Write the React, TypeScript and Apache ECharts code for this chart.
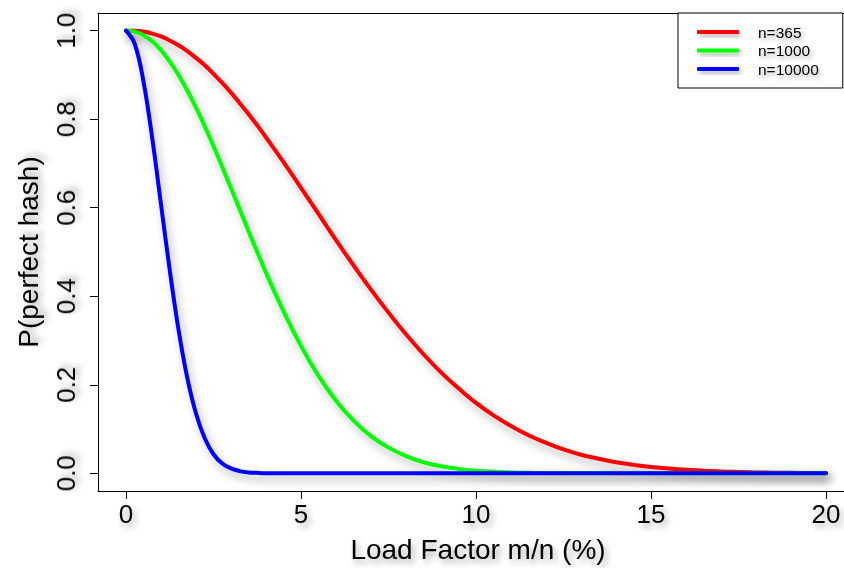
import React, { useEffect, useRef } from "react";
import * as echarts from "echarts";

const loadFactor = [
  0, 0.25, 0.5, 0.75, 1, 1.25, 1.5, 1.75, 2, 2.25, 2.5, 2.75, 3, 3.25, 3.5, 3.75, 4,
  4.5, 5, 5.5, 6, 6.5, 7, 7.5, 8, 8.5, 9, 9.5, 10, 10.5, 11, 11.5, 12, 12.5, 13, 13.5,
  14, 14.5, 15, 15.5, 16, 16.5, 17, 17.5, 18, 18.5, 19, 19.5, 20,
];

const n365 = [
  1.0, 1.0, 0.998, 0.9935, 0.987, 0.978, 0.967, 0.954, 0.9385, 0.922, 0.9025, 0.882, 0.86, 0.836, 0.812, 0.786, 0.759,
  0.703, 0.645, 0.586, 0.527, 0.47, 0.415, 0.363, 0.314, 0.269, 0.228, 0.192, 0.159, 0.131, 0.107, 0.086, 0.069, 0.054,
  0.042, 0.033, 0.025, 0.019, 0.014, 0.011, 0.008, 0.006, 0.004, 0.003, 0.002, 0.0014, 0.001, 0.0007, 0.0005,
];

const n1000 = [
  1.0, 0.998, 0.99, 0.976, 0.956, 0.93, 0.9, 0.865, 0.826, 0.784, 0.739, 0.692, 0.644, 0.596, 0.547, 0.5, 0.453,
  0.366, 0.288, 0.22, 0.164, 0.119, 0.084, 0.058, 0.039, 0.025, 0.016, 0.01, 0.006, 0.0035, 0.002, 0.0011, 0.0006, 0.0003,
  0.0002, 0.0001, 0.0001, 0, 0, 0, 0, 0, 0, 0, 0, 0, 0, 0, 0,
];

const n10000 = [
  1.0, 0.97, 0.885, 0.757, 0.608, 0.459, 0.325, 0.216, 0.135, 0.079, 0.043, 0.022, 0.011, 0.005, 0.002, 0.001, 0.0003,
  0, 0, 0, 0, 0, 0, 0, 0, 0, 0, 0, 0, 0, 0, 0, 0, 0,
  0, 0, 0, 0, 0, 0, 0, 0, 0, 0, 0, 0, 0, 0, 0,
];

const xTicks = [0, 5, 10, 15, 20];
const yTicks = [0, 0.2, 0.4, 0.6, 0.8, 1.0];
const seriesNames = ["n=365", "n=1000", "n=10000"];
const seriesColors = ["#FF0000", "#00FF00", "#0000FF"];

export default function App() {
  const ref = useRef<HTMLDivElement>(null);

  useEffect(() => {
    const chart = echarts.init(ref.current as HTMLDivElement, null, { renderer: "svg" });
    const font = "'Liberation Sans', Arial, Helvetica, sans-serif";
    const shadowText = {
      textShadowColor: "rgba(0,0,0,0.35)",
      textShadowBlur: 6,
      textShadowOffsetX: 3,
      textShadowOffsetY: 4,
    };
    const values = [n365, n1000, n10000];
    const xMin = -0.8;
    const xMax = 20.514;

    chart.setOption({
      animation: false,
      backgroundColor: "#ffffff",
      grid: {
        left: 98,
        top: 13,
        right: 0,
        bottom: 76,
        show: false,
        containLabel: false,
      },
      legend: {
        orient: "vertical",
        left: 678,
        top: 13,
        padding: [10, 24, 10, 19],
        itemWidth: 42,
        itemHeight: 4,
        itemGap: 0.5,
        icon: "roundRect",
        borderColor: "#000",
        borderWidth: 1,
        backgroundColor: "#fff",
        selectedMode: false,
        data: seriesNames,
        itemStyle: {
          shadowColor: "rgba(0,0,0,0.3)",
          shadowBlur: 5,
          shadowOffsetX: 2,
          shadowOffsetY: 3,
        },
        textStyle: {
          fontFamily: font,
          fontSize: 15.5,
          color: "#000",
          lineHeight: 18,
          padding: [0, 0, 0, 14],
          ...shadowText,
          textShadowBlur: 4,
          textShadowOffsetX: 2,
          textShadowOffsetY: 3,
        },
      },
      xAxis: [
        {
          type: "value",
          min: xMin,
          max: xMax,
          splitLine: { show: false },
          axisLine: { show: true, onZero: false, lineStyle: { color: "#000", width: 1 } },
          axisTick: { show: true, length: 8, customValues: xTicks, lineStyle: { color: "#000", width: 1 } },
          axisLabel: {
            customValues: xTicks,
            fontSize: 26,
            color: "#000",
            fontFamily: font,
            margin: 10,
            formatter: (v: number) => String(v),
            ...shadowText,
          },
          name: "Load Factor m/n (%)",
          nameLocation: "middle",
          nameGap: 44,
          nameTextStyle: { fontSize: 28, color: "#000", fontFamily: font, padding: [0, 0, 0, 14], ...shadowText },
        },
        {
          type: "value",
          position: "top",
          min: xMin,
          max: xMax,
          splitLine: { show: false },
          axisLine: { show: true, onZero: false, lineStyle: { color: "#000", width: 1 } },
          axisTick: { show: false },
          axisLabel: { show: false },
        },
      ],
      yAxis: {
        type: "value",
        min: -0.04,
        max: 1.04,
        splitLine: { show: false },
        axisLine: { show: true, onZero: false, lineStyle: { color: "#000", width: 1 } },
        axisTick: { show: true, length: 8, customValues: yTicks, lineStyle: { color: "#000", width: 1 } },
        axisLabel: {
          customValues: yTicks,
          rotate: 90,
          fontSize: 26,
          color: "#000",
          fontFamily: font,
          margin: 19,
          formatter: (v: number) => v.toFixed(1),
          ...shadowText,
        },
        name: "P(perfect hash)",
        nameLocation: "middle",
        nameGap: 56,
        nameRotate: 90,
        nameTextStyle: { fontSize: 28, color: "#000", fontFamily: font, ...shadowText },
      },
      series: seriesNames.map((name, i) => ({
        type: "line",
        name,
        xAxisIndex: 0,
        data: loadFactor.map((x, j) => [x, values[i][j]]),
        showSymbol: false,
        silent: true,
        smooth: 0.4,
        color: seriesColors[i],
        itemStyle: { color: seriesColors[i] },
        lineStyle: {
          color: seriesColors[i],
          width: 4,
          cap: "round",
          join: "round",
          shadowColor: "rgba(0,0,0,0.3)",
          shadowBlur: 8,
          shadowOffsetX: 3,
          shadowOffsetY: 5,
        },
        emphasis: { disabled: true },
      })),
    });

    return () => {
      chart.dispose();
    };
  }, []);

  return (
    <div
      ref={ref}
      style={{ position: "fixed", left: 0, top: 0, width: 844, height: 568, background: "#fff" }}
    />
  );
}
